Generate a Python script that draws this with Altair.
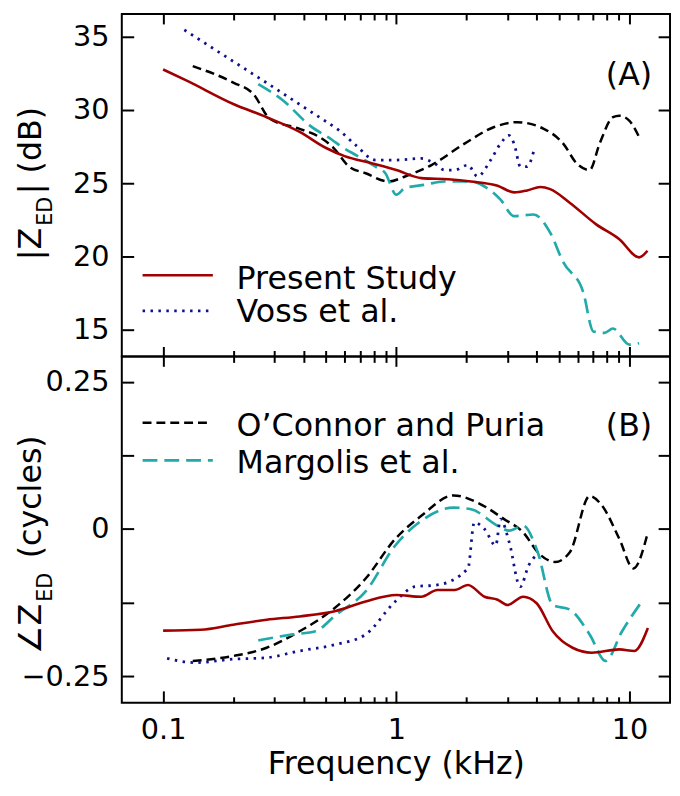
import altair as alt
import pandas as pd

FONT = "DejaVu Sans"

# ---------------- data ----------------
freq_major = [0.1, 1, 10]
freq_minor = [0.2, 0.3, 0.4, 0.5, 0.6, 0.7, 0.8, 0.9, 2, 3, 4, 5, 6, 7, 8, 9]
mag_ticks = [15, 20, 25, 30, 35]
phase_ticks = [-0.25, -0.125, 0, 0.125, 0.25]
phase_labels = [-0.25, 0, 0.25]

series_names = ["Present Study", "Voss et al.", "O\u2019Connor and Puria", "Margolis et al."]

# Panel A: |Z_ED| (dB)
present_mag_f = [0.1, 0.127, 0.2, 0.278, 0.385, 0.5, 0.6, 0.79, 1.0, 1.28, 1.67, 2.09, 2.72,
                 3.2, 3.64, 4.15, 4.57, 5.56, 7.2, 9.05, 11.0, 11.95]
present_mag = [32.75, 31.97, 30.4, 29.5, 28.5, 27.4, 26.85, 26.35, 25.9, 25.35, 25.27, 25.12, 24.83,
               24.38, 24.51, 24.74, 24.6, 23.66, 22.2, 21.19, 19.95, 20.4]

voss_mag_f = [0.1233, 0.2, 0.3, 0.4, 0.5, 0.569, 0.67, 0.815, 0.99, 1.28, 1.46, 1.61, 1.78, 2.03,
              2.23, 2.54, 2.8, 3.04, 3.2, 3.41, 3.64, 3.88]
voss_mag = [35.45, 33.3, 31.5, 30.2, 29.2, 28.6, 27.6, 26.58, 26.58, 26.69, 26.35, 25.9, 25.9, 26.24,
            25.46, 26.58, 27.7, 28.26, 27.7, 26.13, 26.13, 27.14]

oconnor_mag_f = [0.134, 0.2, 0.244, 0.287, 0.385, 0.468, 0.533, 0.628, 0.739, 0.927, 1.09, 1.416,
                 1.963, 2.63, 3.3, 4.29, 5.2, 5.94, 6.75, 7.45, 8.5, 9.05, 9.98, 11.0]
oconnor_mag = [32.98, 31.86, 31.07, 29.39, 28.71, 28.15, 27.48, 26.13, 25.68, 25.12, 25.46, 26.24,
               27.7, 28.83, 29.16, 28.71, 27.7, 26.35, 25.9, 27.7, 29.5, 29.6, 29.27, 28.15]

margolis_mag_f = [0.256, 0.328, 0.425, 0.533, 0.569, 0.692, 0.815, 0.898, 1.0, 1.09, 1.33, 1.61,
                  2.09, 2.39, 2.8, 3.2, 3.88, 4.57, 5.2, 6.33, 7.0, 7.8, 8.5, 9.98, 11.0]
margolis_mag = [31.75, 30.62, 28.94, 27.93, 27.6, 26.8, 26.13, 25.68, 24.22, 24.67, 24.9, 25.12,
                25.12, 24.78, 23.88, 22.76, 22.87, 21.64, 19.62, 17.6, 14.9, 14.8, 15.1, 14.0, 14.1]

# Panel B: angle Z_ED (cycles)
present_ph_f = [0.1, 0.145, 0.2, 0.278, 0.385, 0.55, 0.739, 1.0, 1.28, 1.5, 1.78, 2.03, 2.39, 2.72,
                3.0, 3.5, 4.0, 4.69, 5.7, 6.9, 9.05, 10.5, 12.0]
present_ph = [-0.1725, -0.171, -0.1624, -0.154, -0.1484, -0.139, -0.123, -0.112, -0.115, -0.1036,
              -0.1036, -0.095, -0.115, -0.12, -0.129, -0.115, -0.126, -0.1736, -0.2016, -0.21,
              -0.2044, -0.207, -0.168]

voss_ph_f = [0.104, 0.137, 0.2, 0.278, 0.385, 0.55, 0.739, 0.99, 1.2, 1.5, 2.03, 2.16, 2.39, 2.67,
             2.8, 3.05, 3.4, 3.7, 4.05]
voss_ph = [-0.2195, -0.2268, -0.221, -0.2184, -0.207, -0.196, -0.179, -0.123, -0.098, -0.095,
           -0.067, 0.0112, 0.0, -0.028, 0.0168, -0.0224, -0.098, -0.0616, -0.042]

oconnor_ph_f = [0.134, 0.2, 0.278, 0.385, 0.533, 0.739, 0.99, 1.28, 1.76, 2.23, 2.9, 3.5, 4.1, 4.8,
                5.56, 6.75, 7.65, 9.05, 10.4, 12.0]
oconnor_ph = [-0.224, -0.2156, -0.2016, -0.1736, -0.137, -0.084, -0.0168, 0.0224, 0.057, 0.0448,
              0.0168, -0.0056, -0.042, -0.056, -0.039, 0.056, 0.039, -0.0168, -0.067, -0.0056]

margolis_ph_f = [0.256, 0.36, 0.45, 0.55, 0.739, 0.99, 1.28, 1.76, 2.09, 2.72, 3.05, 3.5, 4.04,
                 4.69, 5.56, 6.75, 7.9, 9.3, 11.3]
margolis_ph = [-0.189, -0.179, -0.1736, -0.146, -0.106, -0.028, 0.014, 0.0364, 0.0336, 0.0056,
               -0.0028, 0.0056, -0.039, -0.129, -0.137, -0.179, -0.224, -0.1736, -0.123]

# ---------------- layout / style ----------------
W = 554
H1 = 346
H2 = 350
X_DOM = [0.0665, 14.93]
MAG_DOM = [13.2, 36.53]
PH_DOM = [-0.295, 0.293]
TXT = 32      # legend / title font size
LAB = 29      # tick label font size

STYLE = {
    "present": dict(color="#A00000", strokeWidth=2.6),
    "voss": dict(color="#10108C", strokeWidth=2.8, strokeDash=[2.5, 5.5]),
    "oconnor": dict(color="black", strokeWidth=2.5, strokeDash=[9, 5]),
    "margolis": dict(color="#22AAAA", strokeWidth=2.7, strokeDash=[15, 7]),
}

one = pd.DataFrame({"k": [0]})
xscale = alt.Scale(type="log", domain=X_DOM, nice=False)


def tick_axis(orient, values, size, offset):
    return alt.Axis(orient=orient, values=values, tickSize=size, offset=offset, labels=False,
                    domain=False, grid=False, title=None, ticks=True, tickColor="black",
                    tickWidth=2)


def line_layer(f, v, style, ydom, xaxis, yaxis):
    df = pd.DataFrame({"f": f, "v": v})
    return alt.Chart(df).mark_line(interpolate="monotone", strokeJoin="round", clip=True,
                                   **style).encode(
        x=alt.X("f:Q", scale=xscale, axis=xaxis),
        y=alt.Y("v:Q", scale=alt.Scale(domain=ydom, nice=False, zero=False), axis=yaxis),
    )


def txt(text, x, y, size=TXT, align="left", angle=0, dx=0, dy=0):
    return alt.Chart(one).mark_text(text=text, fontSize=size, font=FONT, align=align,
                                    baseline="alphabetic", angle=angle, dx=dx, dy=dy,
                                    color="black").encode(x=alt.value(x), y=alt.value(y))


def legend_line(style, x1, x2, y):
    return alt.Chart(one).mark_rule(**style).encode(
        x=alt.value(x1), x2=alt.value(x2), y=alt.value(y))


ylab_mag = alt.Axis(orient="left", values=mag_ticks, ticks=False, tickSize=0, domain=False,
                    grid=False, labelPadding=13, labelFontSize=LAB, labelFont=FONT,
                    labelColor="black", title=None, format="d")
ylab_ph = alt.Axis(orient="left", values=phase_labels, ticks=False, tickSize=0, domain=False,
                   grid=False, labelPadding=13, labelFontSize=LAB, labelFont=FONT,
                   labelColor="black", title=None,
                   labelExpr="datum.value == 0 ? '0' : format(datum.value, '.2f')")
xlab = alt.Axis(orient="bottom", values=freq_major, ticks=False, tickSize=0, domain=False,
                grid=False, labelPadding=13, labelFontSize=LAB, labelFont=FONT,
                labelColor="black", format="~g", labelFlush=False,
                title="Frequency (kHz)", titleFontSize=TXT, titleFont=FONT,
                titleFontWeight="normal", titleColor="black", titlePadding=4)

TX = -82  # baseline of rotated axis titles (plot coords)

top = alt.layer(
    line_layer(oconnor_mag_f, oconnor_mag, STYLE["oconnor"], MAG_DOM,
               tick_axis("top", freq_major, 10, -10), tick_axis("left", mag_ticks, 12, -12)),
    line_layer(margolis_mag_f, margolis_mag, STYLE["margolis"], MAG_DOM,
               tick_axis("top", freq_minor, 6, -6), tick_axis("right", mag_ticks, 12, -12)),
    line_layer(voss_mag_f, voss_mag, STYLE["voss"], MAG_DOM,
               tick_axis("bottom", freq_major, 20, -10), ylab_mag),
    line_layer(present_mag_f, present_mag, STYLE["present"], MAG_DOM,
               tick_axis("bottom", freq_minor, 12, -6), None),
    legend_line(STYLE["present"], 21, 92, 264),
    legend_line(STYLE["voss"], 21, 92, 300),
    txt(series_names[0], 116, 278),
    txt(series_names[1], 116, 311),
    txt("(A)", 536, 72, align="right"),
    txt("|Z", TX, 214, align="right", angle=270, dx=-2),
    txt("ED", TX, 214, size=21, angle=270, dy=11),
    txt("| (dB)", TX, 214, angle=270, dx=32),
).resolve_axis(x="independent", y="independent").properties(width=W, height=H1)

bottom = alt.layer(
    line_layer(oconnor_ph_f, oconnor_ph, STYLE["oconnor"], PH_DOM,
               tick_axis("bottom", freq_major, 12, -12), tick_axis("left", phase_ticks, 12, -12)),
    line_layer(margolis_ph_f, margolis_ph, STYLE["margolis"], PH_DOM,
               tick_axis("bottom", freq_minor, 6, -6), tick_axis("right", phase_ticks, 12, -12)),
    line_layer(voss_ph_f, voss_ph, STYLE["voss"], PH_DOM, xlab, ylab_ph),
    line_layer(present_ph_f, present_ph, STYLE["present"], PH_DOM, None, None),
    legend_line(STYLE["oconnor"], 21, 90, 67),
    legend_line(STYLE["margolis"], 21, 92, 105),
    txt(series_names[2], 116, 80),
    txt(series_names[3], 116, 118),
    txt("(B)", 536, 80, align="right"),
    txt("\u2220Z", TX, 248, align="right", angle=270, dx=-2),
    txt("ED", TX, 248, size=21, angle=270, dy=11),
    txt("(cycles)", TX, 248, angle=270, dx=44),
).resolve_axis(x="independent", y="independent").properties(width=W, height=H2)

chart = alt.vconcat(top, bottom, spacing=0, bounds="flush").properties(
    padding={"left": 5, "top": 0, "right": 0, "bottom": 0}, background="white"
).configure_view(stroke="black", strokeWidth=2).configure_axis(grid=False)

chart.save("out.html", embed_options={"renderer": "svg", "actions": False})
